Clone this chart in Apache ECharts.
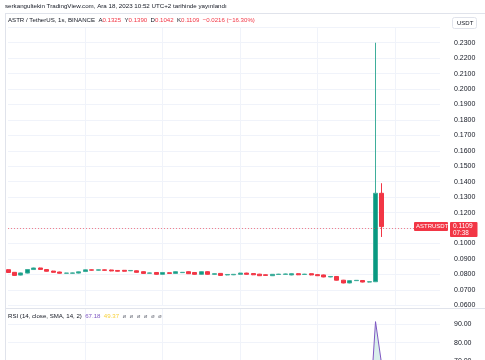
<!DOCTYPE html>
<html><head><meta charset="utf-8">
<script src="https://cdn.jsdelivr.net/npm/echarts@6/dist/echarts.min.js"></script>
<style>html,body{margin:0;padding:0;background:#fff}#c{width:485px;height:360px}</style>
</head><body><div id="c"></div>
<script>
// ---- data ----
const opens = [0.0830,0.0813,0.0795,0.0808,0.0831,0.0841,0.0831,0.0821,0.0815,0.0807,
 0.0807,0.0808,0.0818,0.0829,0.0827,0.0829,0.0828,0.0825,0.0826,0.0823,
 0.0823,0.0817,0.0807,0.0812,0.0800,0.0810,0.0806,0.0811,0.0817,0.0812,
 0.0800,0.0817,0.0800,0.0806,0.0796,0.0797,0.0800,0.0808,0.0805,0.0801,
 0.0797,0.0791,0.0799,0.0800,0.0796,0.0804,0.0799,0.0804,0.0798,0.0796,
 0.0783,0.0786,0.0762,0.0744,0.0759,0.0760,0.0750,0.0752,0.1325];
const closes = [0.0812,0.0793,0.0809,0.0831,0.0841,0.0832,0.0820,0.0813,0.0807,0.0808,
 0.0809,0.0816,0.0829,0.0827,0.0829,0.0826,0.0822,0.0820,0.0820,0.0825,
 0.0813,0.0806,0.0809,0.0800,0.0812,0.0806,0.0817,0.0813,0.0804,0.0800,
 0.0817,0.0800,0.0804,0.0793,0.0799,0.0800,0.0808,0.0800,0.0797,0.0791,
 0.0793,0.0800,0.0801,0.0802,0.0804,0.0797,0.0801,0.0796,0.0791,0.0783,
 0.0786,0.0762,0.0744,0.0759,0.0761,0.0750,0.0752,0.1325,0.1109];
const lows = [0.0810,0.0791,0.0793,0.0806,0.0829,0.0830,0.0818,0.0811,0.0805,0.0805,
 0.0805,0.0806,0.0816,0.0825,0.0825,0.0824,0.0820,0.0818,0.0818,0.0821,
 0.0811,0.0804,0.0805,0.0798,0.0798,0.0804,0.0804,0.0809,0.0802,0.0798,
 0.0798,0.0798,0.0798,0.0791,0.0794,0.0795,0.0798,0.0798,0.0795,0.0789,
 0.0791,0.0789,0.0797,0.0798,0.0794,0.0795,0.0797,0.0794,0.0789,0.0781,
 0.0781,0.0760,0.0742,0.0742,0.0757,0.0748,0.0748,0.0750,0.1042];
const highs = [0.0832,0.0815,0.0811,0.0833,0.0843,0.0843,0.0833,0.0823,0.0817,0.0810,
 0.0811,0.0818,0.0831,0.0831,0.0831,0.0831,0.0830,0.0827,0.0828,0.0827,
 0.0825,0.0819,0.0811,0.0814,0.0814,0.0812,0.0819,0.0815,0.0819,0.0814,
 0.0819,0.0819,0.0806,0.0808,0.0801,0.0802,0.0810,0.0810,0.0807,0.0803,
 0.0799,0.0802,0.0803,0.0804,0.0806,0.0806,0.0803,0.0806,0.0800,0.0798,
 0.0788,0.0788,0.0764,0.0761,0.0763,0.0762,0.0754,0.2300,0.1390];
const rsi = [50,44,40,48,58,62,55,50,47,43,44,45,49,55,54,55,53,51,50,51,
 48,44,45,42,48,46,50,51,47,44,51,46,47,43,45,46,49,46,45,43,
 42,47,48,48,50,47,48,45,43,40,42,35,30,38,39,35,38,91.2,67.18];
const rsiMa = [50,49,48,48,49,50,50,50,50,49,49,49,49,50,50,50,50,50,50,50,
 50,49,49,49,49,48,48,48,48,48,48,47,47,47,47,47,47,47,47,46,
 46,46,46,46,46,46,46,46,46,45,45,45,44,44,44,43,43,46.9,49.37];
const priceTicks = {min:0.06, max:0.24, step:0.01};
const rsiTicks = {min:70, max:98.5, step:10};
const nSlots = 68;

const UP='#089981', DOWN='#F23645', GRID='#f0f3fa', BORDER='#e0e3eb', TXT='#131722';
const FONT='"Liberation Sans", Arial, sans-serif';
const cats=[]; for(let i=0;i<nSlots;i++) cats.push('t'+i);
const candleData = opens.map((o,i)=>[o, closes[i], lows[i], highs[i]]);
const vInterval = (i)=> i>0 && i%12===0;
const xAx = (g)=>({type:'category',gridIndex:g,data:cats,boundaryGap:false,
  axisLine:{show:false},axisTick:{show:false},axisLabel:{show:false},
  splitLine:{show:true,interval:vInterval,lineStyle:{color:GRID,width:1}}});
const lastClose = closes[closes.length-1];

const chart = echarts.init(document.getElementById('c'));
chart.setOption({
  animation:false,
  grid:[{left:8,right:45,top:27.3,height:277.9,outerBoundsMode:'none',containLabel:false},
        {left:8,right:45,top:308,height:53.3,outerBoundsMode:'none',containLabel:false}],
  xAxis:[xAx(0),xAx(1)],
  yAxis:[
    {type:'value',gridIndex:0,position:'right',min:priceTicks.min,max:priceTicks.max,interval:priceTicks.step,
     axisLine:{show:false},axisTick:{show:false},
     axisLabel:{formatter:v=> v>0.2355?'':v.toFixed(4),align:'left',margin:14,fontSize:7,color:TXT,fontFamily:FONT},
     splitLine:{lineStyle:{color:GRID,width:1}}},
    {type:'value',gridIndex:1,position:'right',min:rsiTicks.min,max:rsiTicks.max,interval:rsiTicks.step,
     axisLine:{show:false},axisTick:{show:false},
     axisLabel:{formatter:v=> v>95?'':v.toFixed(2),align:'left',margin:14,fontSize:7,color:TXT,fontFamily:FONT,
       showMinLabel:true,verticalAlign:'middle'},
     splitLine:{lineStyle:{color:GRID,width:1}}}
  ],
  series:[
    {type:'candlestick',xAxisIndex:0,yAxisIndex:0,data:candleData,barWidth:4.5,
     itemStyle:{color:UP,color0:DOWN,borderColor:'#3fae9b',borderColor0:DOWN,borderWidth:1},
     markLine:{symbol:'none',silent:true,label:{show:false},
       lineStyle:{color:DOWN,type:[1,2],width:1,opacity:0.6},
       data:[{yAxis:lastClose}]}},
    {type:'line',xAxisIndex:1,yAxisIndex:1,data:rsiMa,symbol:'none',lineStyle:{color:'#F7D13B',width:1}},
    {type:'line',xAxisIndex:1,yAxisIndex:1,data:rsi,symbol:'none',lineStyle:{color:'#7E57C2',width:1},
     areaStyle:{origin:70,color:'rgba(8,153,129,0.22)'}}
  ]
});

const yc = chart.convertToPixel({yAxisIndex:0}, lastClose);
const txt = (x,y,text,opt)=>({type:'text',left:x,top:y,z:50,style:Object.assign({text,fill:TXT,font:'6px '+FONT},opt||{})});
chart.setOption({graphic:[
  txt(5,3,'serkangultekin TradingView.com, Ara 18, 2023 10:52 UTC+2 tarihinde yayınlandı',{font:'6.2px '+FONT}),
  {type:'line',z:40,shape:{x1:5,y1:13.5,x2:485,y2:13.5},style:{stroke:BORDER,lineWidth:1}},
  {type:'line',z:40,shape:{x1:5.5,y1:13,x2:5.5,y2:360},style:{stroke:BORDER,lineWidth:1}},
  {type:'line',z:40,shape:{x1:5,y1:308.5,x2:485,y2:308.5},style:{stroke:BORDER,lineWidth:1}},
  {type:'text',left:8,top:17.5,z:50,style:{
    rich:{d:{fill:TXT,font:'6.1px '+FONT},r:{fill:DOWN,font:'6.1px '+FONT}},
    text:'{d|ASTR / TetherUS, 1s, BINANCE  A}{r|0.1325}{d|  Y}{r|0.1390}{d|  D}{r|0.1042}{d|  K}{r|0.1109}{r|  −0.0216 (−16.30%)}'}},
  {type:'rect',z:45,shape:{x:452.5,y:17.5,width:24,height:11,r:2},style:{fill:'#fff',stroke:BORDER,lineWidth:1}},
  txt(457,20,'USDT',{font:'6px '+FONT}),
  {type:'text',left:8,top:313,z:50,style:{
    rich:{d:{fill:TXT,font:'6.1px '+FONT},p:{fill:'#7E57C2',font:'6.1px '+FONT},y:{fill:'#F7D13B',font:'6.1px '+FONT},g:{fill:'#787b86',font:'6.1px '+FONT}},
    text:'{d|RSI (14, close, SMA, 14, 2)  }{p|67.18}{d|  }{y|49.37}{g|  ø  ø  ø  ø  ø  ø}'}},
  {type:'rect',z:45,shape:{x:414,y:yc-4.5,width:34,height:9,r:1},style:{fill:DOWN}},
  txt(416,yc-3.5,'ASTRUSDT',{fill:'#fff',font:'6px '+FONT}),
  {type:'rect',z:45,shape:{x:450,y:yc-4.5,width:27.5,height:15,r:1},style:{fill:DOWN}},
  txt(453,yc-3.5,lastClose.toFixed(4),{fill:'#fff',font:'6.6px '+FONT}),
  txt(453,yc+3.5,'07:38',{fill:'#fff',font:'6.3px '+FONT})
]});
</script></body></html>
